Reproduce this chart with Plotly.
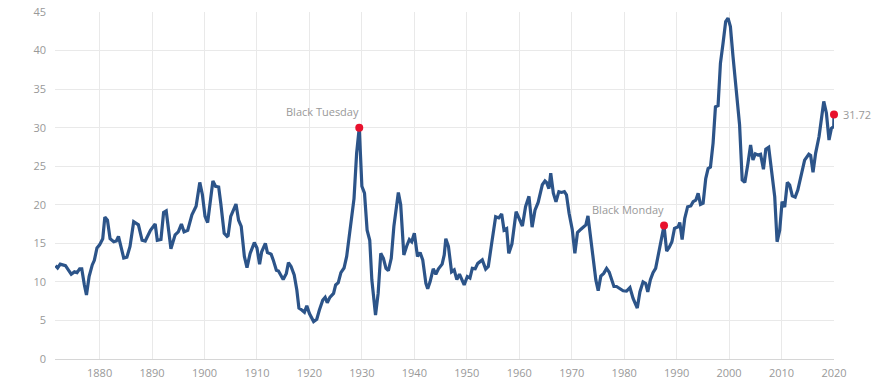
import plotly.graph_objects as go

# Shiller CAPE ratio (approximate readings from the reference chart)
years = [
    1871.6, 1872.0, 1872.5, 1873.5, 1874.1, 1874.6, 1875.2, 1875.7, 1876.2, 1876.6,
    1877.1, 1877.5, 1878.0, 1878.6, 1879.0, 1879.5, 1880.0, 1880.6, 1881.0, 1881.5,
    1882.0, 1882.7, 1883.2, 1883.6, 1884.6, 1885.2, 1885.8, 1886.5, 1887.4, 1888.1,
    1888.7, 1889.7, 1890.6, 1891.0, 1891.7, 1892.2, 1892.7, 1893.6, 1894.4, 1895.0,
    1895.6, 1896.1, 1896.8, 1897.6, 1898.4, 1899.1, 1899.6, 1900.1, 1900.6, 1901.6,
    1902.1, 1902.7, 1903.1, 1903.75, 1904.3, 1904.5, 1905.0, 1906.0, 1906.5, 1907.0,
    1907.6, 1908.1, 1908.7, 1909.5, 1910.0, 1910.5, 1910.9, 1911.6, 1912.0, 1912.7,
    1913.1, 1913.7, 1914.1, 1914.6, 1915.0, 1915.6, 1916.0, 1916.5, 1917.1, 1917.6,
    1918.0, 1918.55, 1919.05, 1919.5, 1920.0, 1920.8, 1921.4, 1921.9, 1922.55, 1923.0,
    1923.4, 1923.9, 1924.6, 1925.0, 1925.5, 1926.0, 1926.6, 1927.1, 1927.6, 1928.1,
    1928.5, 1929.0, 1929.5, 1930.0, 1930.5, 1931.0, 1931.5, 1931.9, 1932.6, 1933.1,
    1933.6, 1934.1, 1934.6, 1935.05, 1935.6, 1936.1, 1936.95, 1937.4, 1938.0, 1938.55,
    1939.05, 1939.5, 1940.0, 1940.6, 1941.1, 1941.6, 1942.2, 1942.55, 1943.0, 1943.6,
    1944.1, 1944.6, 1945.3, 1945.7, 1946.0, 1946.5, 1947.1, 1947.6, 1948.1, 1948.6,
    1949.0, 1949.5, 1950.1, 1950.6, 1951.05, 1951.6, 1952.1, 1952.95, 1953.6, 1954.1,
    1954.7, 1955.5, 1956.1, 1956.65, 1957.1, 1957.6, 1958.0, 1958.6, 1959.4, 1959.8,
    1960.6, 1961.2, 1961.85, 1962.45, 1963.0, 1963.6, 1964.4, 1964.9, 1965.2, 1965.65,
    1966.0, 1966.5, 1967.0, 1967.55, 1968.05, 1968.6, 1969.0, 1969.5, 1970.1, 1970.6,
    1971.1, 1971.7, 1972.3, 1972.7, 1973.1, 1973.65, 1974.1, 1974.6, 1975.05, 1975.55,
    1976.1, 1976.65, 1977.15, 1977.6, 1978.05, 1978.55, 1979.2, 1979.8, 1980.45, 1981.1,
    1981.7, 1982.5, 1983.0, 1983.6, 1984.1, 1984.5, 1985.0, 1985.5, 1986.0, 1986.5,
    1987.0, 1987.6, 1988.1, 1988.6, 1989.1, 1989.6, 1990.3, 1990.6, 1991.05, 1991.55,
    1992.1, 1992.7, 1993.15, 1993.65, 1994.1, 1994.55, 1995.05, 1995.55, 1996.0, 1996.45,
    1996.95, 1997.4, 1997.9, 1998.35, 1998.85, 1999.35, 1999.8, 2000.25, 2000.75, 2001.2,
    2001.6, 2002.0, 2002.5, 2003.0, 2003.6, 2004.1, 2004.55, 2005.0, 2005.5, 2006.0,
    2006.55, 2007.0, 2007.55, 2008.05, 2008.7, 2009.15, 2009.65, 2010.1, 2010.6, 2011.1,
    2011.55, 2012.05, 2012.6, 2013.1, 2013.8, 2014.4, 2015.2, 2015.55, 2016.0, 2016.5,
    2017.15, 2017.6, 2018.05, 2018.55, 2019.05, 2019.5, 2019.95, 2020.0,
]
cape = [
    12.1, 11.8, 12.3, 12.1, 11.5, 11.0, 11.3, 11.2, 11.7, 11.7,
    9.6, 8.3, 10.7, 12.2, 12.8, 14.4, 14.8, 15.6, 18.4, 18.0,
    15.6, 15.2, 15.3, 15.9, 13.1, 13.2, 14.6, 17.8, 17.4, 15.4,
    15.3, 16.7, 17.5, 15.4, 15.5, 19.0, 19.2, 14.3, 16.1, 16.5,
    17.5, 16.5, 16.7, 18.7, 19.8, 22.9, 21.3, 18.5, 17.7, 23.1,
    22.4, 22.3, 20.2, 16.3, 15.9, 16.0, 18.5, 20.1, 18.0, 17.2,
    13.3, 11.85, 13.7, 15.1, 14.4, 12.3, 13.9, 15.0, 13.8, 13.6,
    12.85, 11.5, 11.4, 10.7, 10.3, 11.1, 12.5, 12.0, 10.9, 8.95,
    6.6, 6.35, 6.05, 6.9, 5.9, 4.85, 5.15, 6.35, 7.65, 8.0,
    7.3, 8.0, 8.5, 9.6, 9.9, 11.2, 11.8, 13.3, 15.9, 18.45,
    20.8, 26.7, 30.0, 22.4, 21.5, 16.7, 15.4, 10.25, 5.7, 8.5,
    13.7, 13.05, 11.75, 11.45, 13.05, 17.2, 21.6, 20.0, 13.5, 14.65,
    15.5, 15.2, 16.3, 13.3, 13.8, 12.85, 9.8, 9.1, 10.0, 11.7,
    11.0, 11.7, 12.3, 13.5, 15.6, 14.6, 11.3, 11.55, 10.3, 11.0,
    10.3, 9.6, 10.7, 10.5, 11.75, 11.7, 12.4, 12.85, 11.65, 12.0,
    14.8, 18.45, 18.3, 18.8, 16.7, 16.9, 13.7, 14.9, 19.1, 18.45,
    17.25, 19.75, 21.1, 17.1, 19.3, 20.3, 22.6, 23.1, 22.9, 22.1,
    24.1, 21.5, 20.4, 21.7, 21.6, 21.7, 21.3, 18.9, 16.8, 13.7,
    16.4, 16.8, 17.25, 17.4, 18.55, 15.4, 12.85, 10.25, 8.85, 10.75,
    11.1, 11.75, 11.25, 10.3, 9.4, 9.4, 9.15, 8.85, 8.8, 9.25,
    7.85, 6.6, 8.7, 10.0, 9.8, 8.7, 10.3, 11.2, 11.75, 13.5,
    15.0, 17.3, 14.0, 14.5, 15.2, 16.95, 17.15, 17.7, 15.5, 18.25,
    19.75, 19.85, 20.4, 20.6, 21.5, 20.05, 20.2, 23.4, 24.7, 24.9,
    28.0, 32.7, 32.85, 38.35, 40.95, 43.75, 44.2, 43.1, 39.2, 35.75,
    32.3, 30.35, 23.2, 22.9, 25.4, 27.75, 25.8, 26.6, 26.45, 26.55,
    24.6, 27.2, 27.45, 24.9, 21.05, 15.2, 16.7, 20.4, 19.7, 22.9,
    22.55, 21.15, 21.0, 21.9, 24.1, 25.8, 26.55, 26.4, 24.2, 26.7,
    28.85, 30.8, 33.4, 31.9, 28.4, 29.9, 30.15, 31.72,
]

# Highlighted events
event_years = [1929.5, 1987.6, 2020.0]
event_values = [30.0, 17.3, 31.72]
event_labels = ["Black Tuesday", "Black Monday", "31.72"]

tick_years = [1880, 1890, 1900, 1910, 1920, 1930, 1940, 1950, 1960, 1970,
              1980, 1990, 2000, 2010, 2020]

LINE = "#2c5489"
RED = "#e8112d"
GRID = "#e9e9e9"
TXT = "#999999"
FONT = "Open Sans, Liberation Sans, Arial, sans-serif"

fig = go.Figure()
fig.add_trace(go.Scatter(
    x=years, y=cape, mode="lines",
    line=dict(color=LINE, width=3.2),
    hoverinfo="skip", showlegend=False,
))
fig.add_trace(go.Scatter(
    x=event_years, y=event_values, mode="markers",
    marker=dict(color=RED, size=8),
    hoverinfo="skip", showlegend=False, cliponaxis=False,
))

for i, (ex, ev, lab) in enumerate(zip(event_years, event_values, event_labels)):
    if i < 2:
        fig.add_annotation(x=ex, y=ev, text=lab, showarrow=False,
                           xanchor="right", yanchor="middle",
                           xshift=2, yshift=16,
                           font=dict(family=FONT, size=11, color=TXT))
    else:
        fig.add_annotation(x=ex, y=ev, text=lab, showarrow=False,
                           xanchor="left", yanchor="middle",
                           xshift=7, yshift=0,
                           font=dict(family=FONT, size=11, color=TXT))

fig.update_layout(
    width=890, height=384,
    margin=dict(l=55, r=56, t=12, b=25, autoexpand=False),
    paper_bgcolor="white", plot_bgcolor="white",
    font=dict(family=FONT, size=11, color=TXT),
    xaxis=dict(
        range=[1871.5, 2020.0],
        tickvals=tick_years,
        showgrid=True, gridcolor=GRID, gridwidth=1,
        zeroline=False, automargin=False,
        showline=True, linecolor="#d6d6d6", linewidth=1,
        ticks="", ticklabelstandoff=4,
        tickfont=dict(family=FONT, size=11, color=TXT),
    ),
    yaxis=dict(
        range=[0, 45], dtick=5,
        showgrid=True, gridcolor=GRID, gridwidth=1,
        zeroline=False, showline=False, automargin=False,
        ticks="", ticklabelstandoff=8,
        tickfont=dict(family=FONT, size=11, color=TXT),
    ),
)

fig.write_html(
    "out.html",
    config={"displayModeBar": False},
    post_script="document.body.style.margin='0';document.body.style.overflow='hidden';",
)
